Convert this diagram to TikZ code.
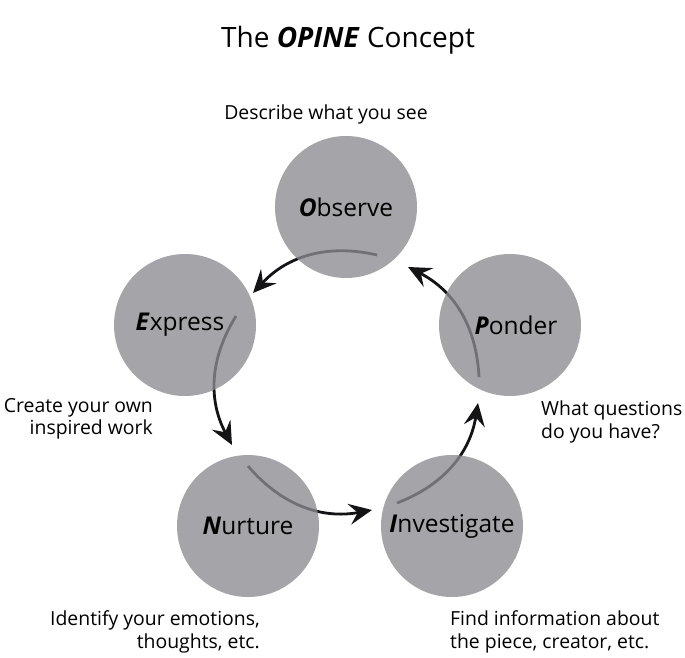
\documentclass[tikz,border=0pt]{standalone}
\usepackage{fontspec}
\setmainfont{Open Sans}
\usetikzlibrary{arrows.meta}
\definecolor{discfill}{RGB}{140,139,145}
\definecolor{arrowink}{RGB}{20,20,22}
\begin{document}
\begin{tikzpicture}[x=1pt,y=-1pt,
  disc/.style={circle,minimum size=142pt,inner sep=0pt,fill=discfill,fill opacity=0.78,text opacity=1,text=black,font=\fontsize{24.5}{30}\selectfont},
  flow/.style={draw=arrowink,line width=2.8pt,-{Stealth[length=23pt,width=21pt,inset=8.5pt]},bend right=30},
  note/.style={font=\fontsize{19.4}{22.5}\selectfont,text=black,inner sep=0pt}]
\useasboundingbox (0,0) rectangle (685,658);
% arrow end points
\coordinate (s1) at (377,255); \coordinate (e1) at (253,293);
\coordinate (s2) at (479,377); \coordinate (e2) at (408,267);
\coordinate (s3) at (236,316); \coordinate (e3) at (232,445);
\coordinate (s4) at (248,466); \coordinate (e4) at (372,510);
\coordinate (s5) at (397,503); \coordinate (e5) at (478,403);
\draw[flow] (s1) to (e1);
\draw[flow] (s2) to (e2);
\draw[flow] (s3) to (e3);
\draw[flow] (s4) to (e4);
\draw[flow] (s5) to (e5);
% discs
\node[disc] (obs) at (346,207) {\textbf{\textit{O}}bserve};
\node[disc] (exp) at (185,325) {\textbf{\textit{E}}xpress\hspace*{10pt}};
\node[disc] (pon) at (510,325) {\hspace*{12pt}\textbf{\textit{P}}onder};
\node[disc] (nur) at (248,526) {\textbf{\textit{N}}urture};
\node[disc] (inv) at (452,526) {\textbf{\textit{I}}nvestigate};
% title
\node[font=\fontsize{28}{34}\selectfont,inner sep=0pt] (title) at (348,40) {The \textbf{\textit{OPINE}} Concept};
% notes
\node[note] (nobs) at (326,114) {Describe what you see};
\node[note,align=right,anchor=east] (nexp) at (153,419) {Create your own\\inspired work};
\node[note,align=left,anchor=west] (npon) at (541,422) {What questions\\do you have?};
\node[note,align=right,anchor=east] (nnur) at (260,632) {Identify your emotions,\\thoughts, etc.};
\node[note,align=left,anchor=west] (ninv) at (450,632) {Find information about\\the piece, creator, etc.};
\end{tikzpicture}
\end{document}
